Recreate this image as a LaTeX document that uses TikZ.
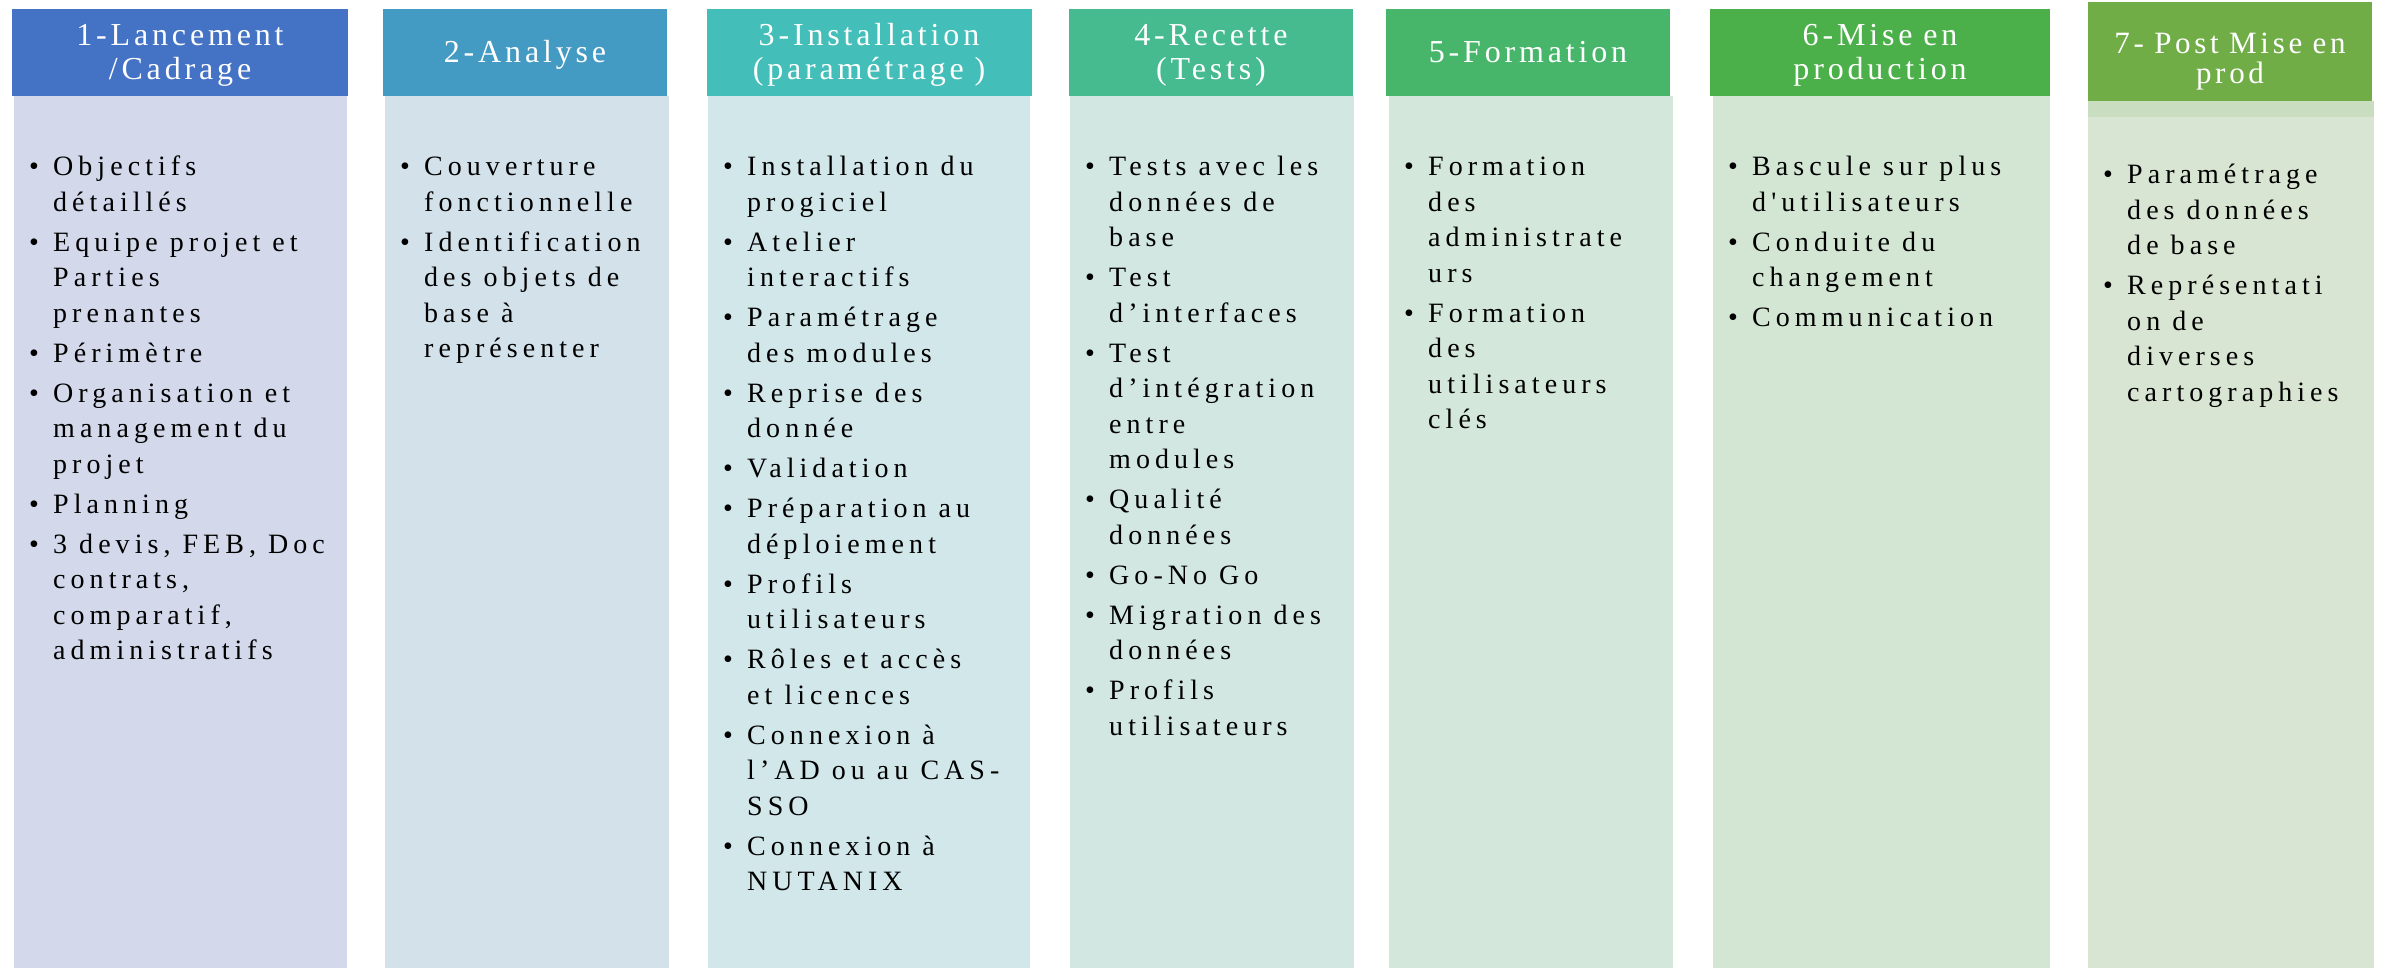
\documentclass[tikz,border=0pt]{standalone}
\usepackage{fontspec}
\setmainfont{Liberation Serif}
\newfontfamily\headfont{Liberation Serif}[LetterSpace=12]
\newfontfamily\bodyfont{Liberation Serif}[LetterSpace=18,Ligatures=TeXOff]
\definecolor{headA}{HTML}{4472C4}
\definecolor{headB}{HTML}{439AC3}
\definecolor{headC}{HTML}{43BEB8}
\definecolor{headD}{HTML}{45BB8F}
\definecolor{headE}{HTML}{47B66A}
\definecolor{headF}{HTML}{4BAF4A}
\definecolor{headG}{HTML}{70AD47}
\definecolor{bodyA}{HTML}{D3D8EB}
\definecolor{bodyB}{HTML}{D2E1EA}
\definecolor{bodyC}{HTML}{D2E7EA}
\definecolor{bodyD}{HTML}{D2E7E1}
\definecolor{bodyE}{HTML}{D3E7DB}
\definecolor{bodyF}{HTML}{D3E6D4}
\definecolor{bodyG}{HTML}{D9E5D3}
\definecolor{bandG}{HTML}{C9DDC1}
\newenvironment{plist}{\begin{tabular}[t]{@{}p{24pt}@{}l@{}}}{\end{tabular}}
\newcommand\itm{• &}
\newcommand\nxt{\\[4.5pt]}
\begin{document}
\begin{tikzpicture}[x=1pt,y=-1pt,
  head/.style={anchor=base,text=white,text width=320pt,align=center,inner sep=0pt,
    font=\headfont\fontsize{32}{34.5}\selectfont},
  list/.style={anchor=base west,inner sep=0pt,
    font=\bodyfont\fontsize{28}{35.5}\selectfont}]
\useasboundingbox (0,0) rectangle (2382,968);
% 1-Lancement
\fill[bodyA] (14,96) rectangle (347,968);
\fill[headA] (12,9) rectangle (348,96);
\node[head] (h1) at (180,45.5) {1-Lancement\\/Cadrage};
\node[list] (t1) at (29,176) {\begin{plist}
\itm Objectifs\\ & détaillés\nxt
\itm Equipe projet et\\ & Parties\\ & prenantes\nxt
\itm Périmètre\nxt
\itm Organisation et\\ & management du\\ & projet\nxt
\itm Planning\nxt
\itm 3 devis, FEB, Doc\\ & contrats,\\ & comparatif,\\ & administratifs
\end{plist}};
% 2-Analyse
\fill[bodyB] (385,96) rectangle (669,968);
\fill[headB] (383,9) rectangle (667,96);
\node[head] (h2) at (525,63) {2-Analyse};
\node[list] (t2) at (400,176) {\begin{plist}
\itm Couverture\\ & fonctionnelle\nxt
\itm Identification\\ & des objets de\\ & base à\\ & représenter
\end{plist}};
% 3-Installation
\fill[bodyC] (708,96) rectangle (1030,968);
\fill[headC] (707,9) rectangle (1032,96);
\node[head] (h3) at (869,45.5) {3-Installation\\(paramétrage )};
\node[list] (t3) at (723,176) {\begin{plist}
\itm Installation du\\ & progiciel\nxt
\itm Atelier\\ & interactifs\nxt
\itm Paramétrage\\ & des modules\nxt
\itm Reprise des\\ & donnée\nxt
\itm Validation\nxt
\itm Préparation au\\ & déploiement\nxt
\itm Profils\\ & utilisateurs\nxt
\itm Rôles et accès\\ & et licences\nxt
\itm Connexion à\\ & l’AD ou au CAS-\\ & SSO\nxt
\itm Connexion à\\ & NUTANIX
\end{plist}};
% 4-Recette
\fill[bodyD] (1070,96) rectangle (1354,968);
\fill[headD] (1069,9) rectangle (1353,96);
\node[head] (h4) at (1211,45.5) {4-Recette\\(Tests)};
\node[list] (t4) at (1085,176) {\begin{plist}
\itm Tests avec les\\ & données de\\ & base\nxt
\itm Test\\ & d’interfaces\nxt
\itm Test\\ & d’intégration\\ & entre\\ & modules\nxt
\itm Qualité\\ & données\nxt
\itm Go-No Go\nxt
\itm Migration des\\ & données\nxt
\itm Profils\\ & utilisateurs
\end{plist}};
% 5-Formation
\fill[bodyE] (1389,96) rectangle (1673,968);
\fill[headE] (1386,9) rectangle (1670,96);
\node[head] (h5) at (1528,63) {5-Formation};
\node[list] (t5) at (1404,176) {\begin{plist}
\itm Formation\\ & des\\ & administrate\\ & urs\nxt
\itm Formation\\ & des\\ & utilisateurs\\ & clés
\end{plist}};
% 6-Mise en production
\fill[bodyF] (1713,96) rectangle (2050,968);
\fill[headF] (1710,9) rectangle (2050,96);
\node[head] (h6) at (1880,45.5) {6-Mise en\\production};
\node[list] (t6) at (1728,176) {\begin{plist}
\itm Bascule sur plus\\ & d\symbol{39}utilisateurs\nxt
\itm Conduite du\\ & changement\nxt
\itm Communication
\end{plist}};
% 7-Post Mise en prod
\fill[bodyG] (2088,117) rectangle (2374,968);
\fill[bandG] (2088,101) rectangle (2374,117);
\fill[headG] (2088,2) rectangle (2372,101);
\node[head,font=\headfont\fontsize{31}{30}\selectfont] (h7) at (2230,54) {7- Post Mise en\\prod};
\node[list] (t7) at (2103,184) {\begin{plist}
\itm Paramétrage\\ & des données\\ & de base\nxt
\itm Représentati\\ & on de\\ & diverses\\ & cartographies
\end{plist}};
\end{tikzpicture}
\end{document}
